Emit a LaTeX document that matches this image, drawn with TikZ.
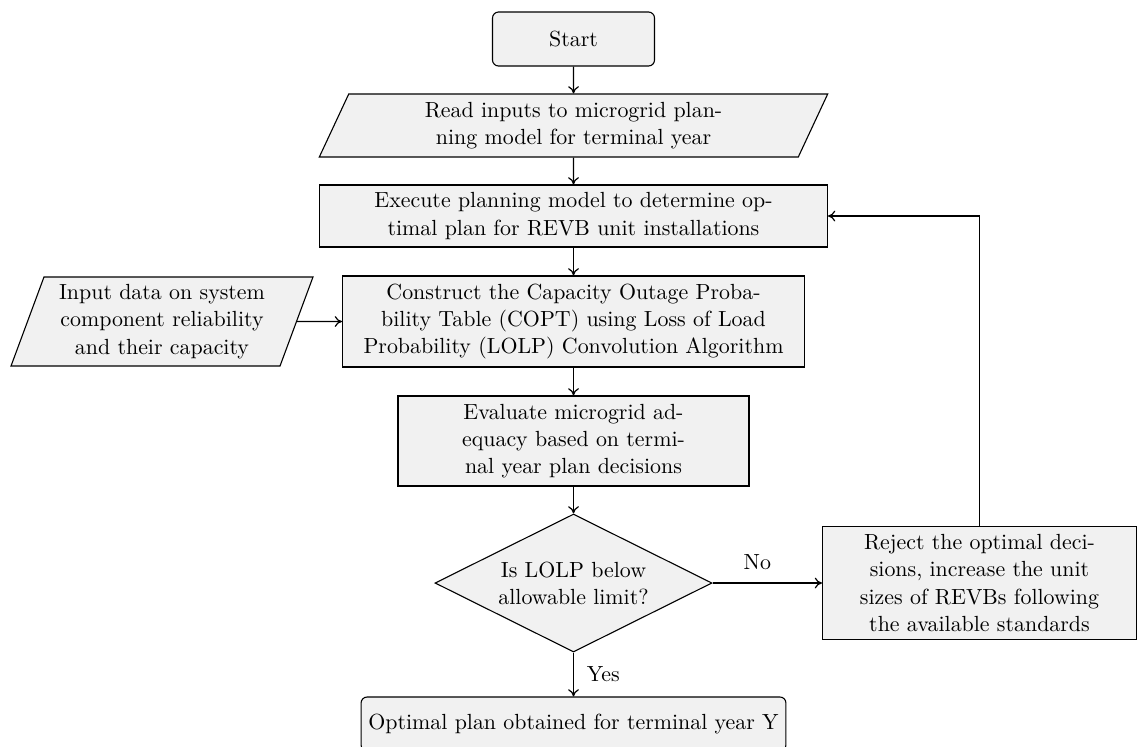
\documentclass[tikz,border=0pt]{standalone}
\usetikzlibrary{shapes.geometric,arrows.meta}
\definecolor{boxfill}{gray}{0.945}
\begin{document}
\begin{tikzpicture}[x=0.5pt,y=-0.5pt,
  font=\fontsize{10.95}{13.6}\selectfont,
  base/.style={draw=black, line width=0.55pt, fill=boxfill, align=center, inner sep=2pt},
  term/.style={base, rectangle, rounded corners=3pt, minimum width=81pt, minimum height=27pt, inner xsep=3.65pt},
  proc/.style={base, rectangle},
  io/.style={base, trapezium, trapezium left angle=70, trapezium right angle=110, trapezium stretches=true},
  decision/.style={base, diamond, aspect=2},
  flow/.style={-{To[length=3.6pt,width=5.4pt]}, line width=0.6pt}]
\useasboundingbox (0,0) rectangle (1138,746);

% main column
\node[term] (start) at (573.5,39) {Start};
\node[io, minimum width=254.5pt, minimum height=31.5pt] (read) at (573.5,125.5)
  {Read inputs to microgrid plan-\\ning model for terminal year};
\node[proc, minimum width=254pt, minimum height=31pt] (exec) at (573.5,216)
  {Execute planning model to determine op-\\timal plan for REVB unit installations};
\node[proc, minimum width=231pt, minimum height=45.5pt] (copt) at (573.5,321.5)
  {Construct the Capacity Outage Proba-\\bility Table (COPT) using Loss of Load\\Probability (LOLP) Convolution Algorithm};
\node[io, minimum width=151pt, minimum height=44.5pt] (input) at (162,321.5)
  {Input data on system\\component reliability\\and their capacity};
\node[proc, minimum width=175.5pt, minimum height=45pt] (eval) at (573.5,441)
  {Evaluate microgrid ad-\\equacy based on termi-\\nal year plan decisions};
\node[decision, minimum width=138.5pt, minimum height=69pt] (lolp) at (573.5,583)
  {Is LOLP below\\allowable limit?};
\node[proc, minimum width=157pt, minimum height=56.5pt] (reject) at (979.5,583)
  {Reject the optimal deci-\\sions, increase the unit\\sizes of REVBs following\\the available standards};
\node[term] (final) at (573.5,724) {Optimal plan obtained for terminal year Y};

% connectors
\draw[flow] (start) -- (read);
\draw[flow] (read) -- (exec);
\draw[flow] (exec) -- (copt);
\draw[flow] (input) -- (copt);
\draw[flow] (copt) -- (eval);
\draw[flow] (eval) -- (lolp);
\draw[flow] (lolp.east) -- node[pos=0.41, above=3pt] {No} (reject.west);
\draw[flow] (lolp.south) -- node[right=3pt] {Yes} (final.north);
\draw[flow] (reject.north) |- (exec.east);
\end{tikzpicture}
\end{document}
